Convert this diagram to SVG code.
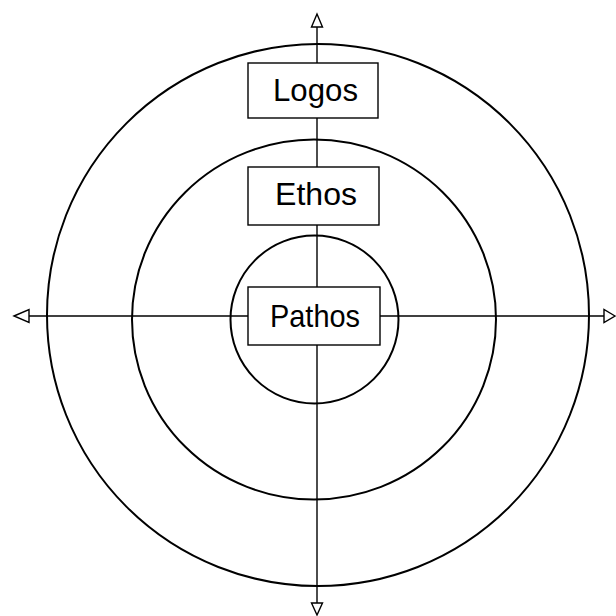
<svg xmlns="http://www.w3.org/2000/svg" width="616" height="616" viewBox="0 0 616 616">
<style>
.ring{fill:none;stroke:#000;stroke-width:2}
.axis{stroke:#000;stroke-width:1.4;fill:none}
.box{fill:#fff;stroke:#000;stroke-width:1.4}
.lbl{font-family:"Liberation Sans",Arial,sans-serif;font-size:32px;fill:#000;text-anchor:middle}
.head{fill:#fff;stroke:#000;stroke-width:1.4}
</style>
<rect width="616" height="616" fill="#fff"/>
<g id="rings">
<circle class="ring" cx="318" cy="315" r="271"/>
<ellipse class="ring" cx="314" cy="319.5" rx="182" ry="180"/>
<circle class="ring" cx="314.5" cy="319.5" r="84"/>
</g>
<g id="connectors">
<line class="axis" x1="317" y1="27" x2="317" y2="603"/>
<line class="axis" x1="29" y1="316" x2="604" y2="316"/>
<polygon class="head" points="317,14 311.5,27 322.5,27"/>
<polygon class="head" points="317,615 311.5,603 322.5,603"/>
<polygon class="head" points="14,316 29,309.5 29,322.5"/>
<polygon class="head" points="615,316 604,309.5 604,322.5"/>
</g>
<g id="logos">
<rect class="box" x="248" y="63" width="130" height="55"/>
<text class="lbl" x="315.5" y="101" textLength="85" lengthAdjust="spacingAndGlyphs">Logos</text>
</g>
<g id="ethos">
<rect class="box" x="248" y="167" width="131" height="58"/>
<text class="lbl" x="316" y="205" textLength="82" lengthAdjust="spacingAndGlyphs">Ethos</text>
</g>
<g id="pathos">
<rect class="box" x="248" y="287" width="132" height="58"/>
<text class="lbl" x="315" y="327" textLength="90" lengthAdjust="spacingAndGlyphs">Pathos</text>
</g>
</svg>
